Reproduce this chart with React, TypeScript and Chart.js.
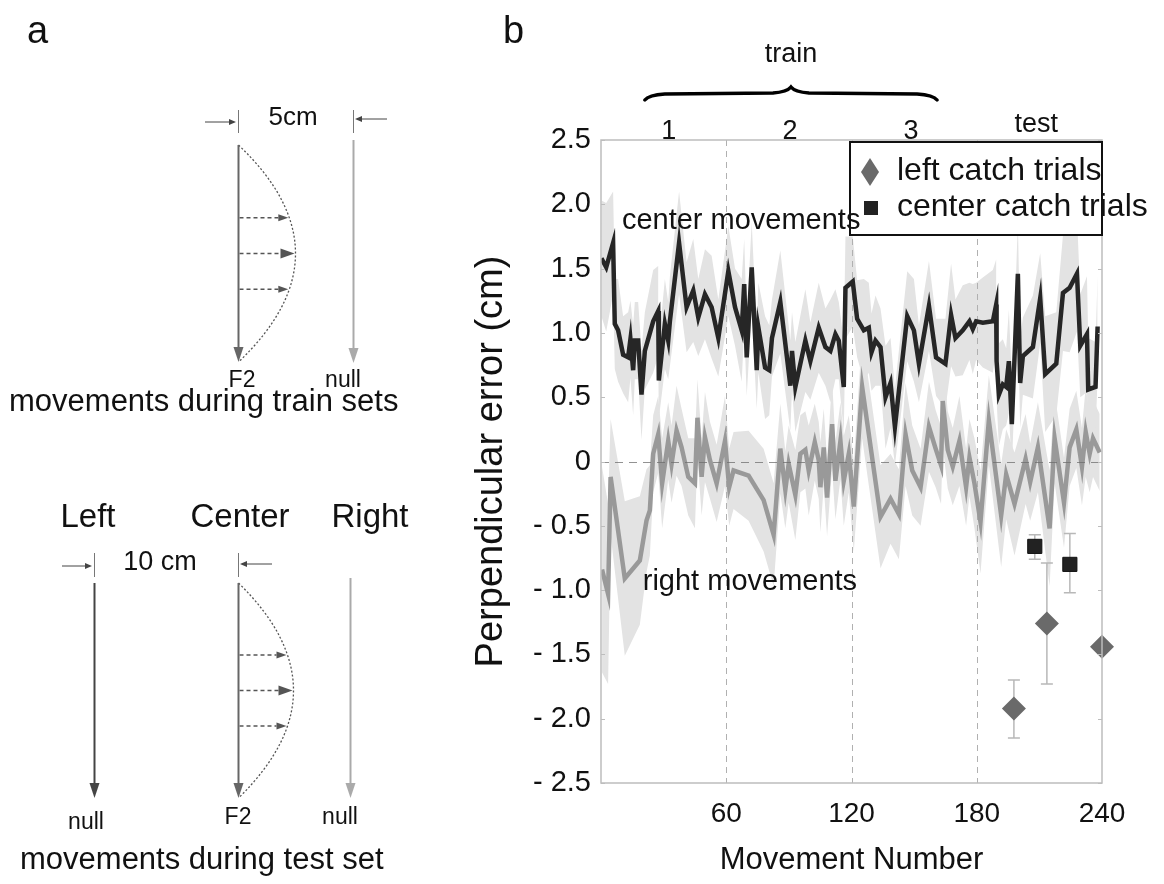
import React, { useEffect, useRef } from "react";
import { Chart, registerables } from "chart.js";
Chart.register(...registerables);

// ---------------- data (panel b) ----------------
const centerX = [0.2, 2.5, 5.8, 6.6, 8.2, 10.6, 13, 14.1, 15.4, 16.2,
  17.8, 19.4, 21, 25, 27.4, 27.7, 30.6, 32.2, 33, 37.4,
  41, 44.2, 46.6, 49.8, 53, 56.2, 61, 64.2, 67.4, 68.6,
  69.8, 72.2, 74.6, 75.4, 78.6, 80.6, 81.9, 85.9, 90.7, 91.5,
  93.1, 97.9, 100.3, 104.3, 107.5, 109.9, 112.3, 113.9, 116.3, 117.1,
  120.6, 122.7, 125.9, 128.3, 129.6, 131.5, 133.9, 136.3, 138.7, 140.8,
  146.7, 149.9, 152.3, 157.1, 160.5, 165, 167.7, 169.8, 173.3, 176.5,
  178.1, 179.7, 182.9, 187.7, 189.3, 189.5, 190.6, 192.5, 194.1, 195.4,
  196.8, 198.1, 199.7, 200.8, 202.1, 206.9, 210.4, 212.8, 218.1, 221.3,
  224.5, 228, 229.6, 232.8, 233.4, 236.9, 237.9];
const centerY = [1.58, 1.51, 1.70, 1.07, 1.02, 0.83, 0.81, 0.95, 0.71, 0.94,
  0.94, 0.52, 0.86, 1.09, 1.17, 0.63, 1.07, 0.94, 1.09, 1.70,
  1.20, 1.33, 1.12, 1.30, 1.20, 0.96, 1.48, 1.20, 1.02, 1.38,
  0.81, 1.51, 0.71, 1.04, 0.73, 0.71, 0.96, 1.24, 0.59, 0.86,
  0.58, 0.94, 0.78, 1.04, 0.89, 0.86, 0.99, 0.94, 0.58, 1.35,
  1.40, 1.11, 1.02, 1.04, 0.85, 0.94, 0.89, 0.50, 0.61, 0.27,
  1.13, 1.02, 0.76, 1.21, 0.81, 0.76, 1.14, 0.96, 1.02, 1.09,
  1.03, 1.09, 1.08, 1.09, 1.22, 0.78, 0.52, 0.60, 0.58, 0.78,
  0.29, 0.81, 1.46, 0.61, 0.82, 0.89, 1.27, 0.68, 0.76, 1.31,
  1.35, 1.46, 0.90, 0.99, 0.56, 0.58, 1.05];
const centerSD = [0.45, 0.5, 0.4, 0.35, 0.4, 0.3, 0.35, 0.3, 0.35, 0.3,
  0.3, 0.35, 0.3, 0.4, 0.35, 0.3, 0.35, 0.3, 0.35, 0.4,
  0.35, 0.4, 0.3, 0.35, 0.4, 0.3, 0.35, 0.3, 0.4, 0.35,
  0.3, 0.35, 0.3, 0.35, 0.4, 0.35, 0.3, 0.4, 0.35, 0.3,
  0.35, 0.4, 0.3, 0.35, 0.3, 0.4, 0.35, 0.3, 0.35, 0.4,
  0.35, 0.3, 0.4, 0.35, 0.3, 0.35, 0.3, 0.4, 0.35, 0.3,
  0.35, 0.4, 0.3, 0.35, 0.3, 0.35, 0.4, 0.3, 0.35, 0.3,
  0.35, 0.3, 0.35, 0.4, 0.35, 0.3, 0.4, 0.35, 0.3, 0.4,
  0.35, 0.3, 0.4, 0.35, 0.3, 0.4, 0.35, 0.45, 0.4, 0.45,
  0.5, 0.45, 0.4, 0.45, 0.4, 0.35, 0.4];

const rightX = [0.5, 3.4, 4.6, 11.4, 18.6, 21.8, 23.4, 25, 27.4, 29.3,
  32.2, 33.8, 36.2, 38.6, 41.8, 45, 46.2, 48.2, 49.8, 52.2,
  55.4, 59.4, 61.4, 63.5, 70.7, 77.9, 82.7, 85.9, 88.3, 89.9,
  93.1, 95.5, 97.9, 99.5, 102.4, 104.3, 105.1, 106.7, 108.3, 110.7,
  112.3, 114.7, 116.3, 118.7, 121.1, 125.1, 133.9, 138.7, 142.7, 145.9,
  149.1, 153.1, 157.1, 160.3, 162.9, 163.7, 166.1, 168.5, 171.7, 174.9,
  176.5, 178.9, 181.8, 185.8, 191.7, 194.1, 198.1, 203.4, 205.6, 209.3,
  214.9, 217.3, 221.8, 224.5, 227.7, 230.4, 232.2, 234.1, 235.7, 238.9];
const rightY = [-0.84, -1.03, -0.12, -0.91, -0.77, -0.46, -0.38, 0.06, 0.21, -0.17,
  0.16, -0.02, 0.24, 0.11, -0.12, -0.17, 0.34, -0.12, 0.19, 0.01,
  -0.17, 0.16, -0.20, -0.07, -0.11, -0.30, -0.57, 0.10, -0.22, -0.02,
  -0.26, 0.06, 0.09, -0.07, 0.15, 0.01, -0.20, 0.11, -0.28, 0.29,
  -0.15, 0.16, -0.15, 0.06, -0.35, 0.58, -0.43, -0.29, -0.41, 0.21,
  -0.07, -0.20, 0.27, 0.10, -0.03, 0.47, 0.09, -0.04, 0.16, -0.20,
  0.03, -0.17, -0.47, 0.32, -0.42, -0.10, -0.33, 0.02, -0.16, 0.11,
  -0.52, 0.18, -0.32, 0.11, 0.25, -0.04, 0.23, 0.06, 0.18, 0.07];
const rightSD = [0.8, 0.7, 0.45, 0.6, 0.5, 0.4, 0.35, 0.3, 0.3, 0.35,
  0.3, 0.3, 0.35, 0.3, 0.3, 0.35, 0.3, 0.3, 0.35, 0.3,
  0.3, 0.35, 0.3, 0.3, 0.35, 0.4, 0.4, 0.35, 0.3, 0.3,
  0.35, 0.3, 0.3, 0.35, 0.3, 0.3, 0.35, 0.3, 0.3, 0.35,
  0.3, 0.3, 0.35, 0.3, 0.35, 0.4, 0.4, 0.35, 0.35, 0.4,
  0.35, 0.3, 0.35, 0.3, 0.3, 0.35, 0.3, 0.3, 0.35, 0.3,
  0.3, 0.35, 0.4, 0.35, 0.4, 0.35, 0.4, 0.35, 0.3, 0.35,
  0.45, 0.35, 0.35, 0.3, 0.3, 0.3, 0.35, 0.3, 0.3, 0.3];

const leftCatchX = [197.8, 213.6, 240];
const leftCatchY = [-1.92, -1.26, -1.44];
const leftCatchLow = [-2.15, -1.73, null];
const leftCatchHigh = [-1.70, -0.79, null];
const centerCatchX = [207.8, 224.6];
const centerCatchY = [-0.66, -0.80];
const centerCatchLow = [-0.76, -1.02];
const centerCatchHigh = [-0.57, -0.56];

const xTicks = [60, 120, 180, 240];
const yMin = -2.5;
const yMax = 2.5;
const yStep = 0.5;
const phaseLabels = ["1", "2", "3", "test"];
const phaseCenters = [32.5, 90.5, 148.5, 208.5];
const trainBrace = [21, 161];
const legendLabels = ["left catch trials", "center catch trials"];
const seriesLabels = ["center movements", "right movements"];
const seriesLabelPos = [[10, 1.87], [20, -0.94]];

const FONT = "'Liberation Sans', Arial, Helvetica, sans-serif";
const f = (s: number) => `${s}px ${FONT}`;

const pts = (xs: number[], ys: number[]) => xs.map((x, i) => ({ x, y: ys[i] }));
const band = (xs: number[], ys: number[], sd: number[], sign: number) =>
  xs.map((x, i) => ({ x, y: ys[i] + sign * sd[i] }));

// ---------------- panel a drawing helpers ----------------
function vArrow(ctx: any, x: number, y1: number, y2: number, color: string, lw: number, hw: number, hl: number) {
  ctx.save();
  ctx.setLineDash([]);
  ctx.strokeStyle = color;
  ctx.lineWidth = lw;
  ctx.beginPath();
  ctx.moveTo(x, y1);
  ctx.lineTo(x, y2 - hl + 2);
  ctx.stroke();
  ctx.fillStyle = color;
  ctx.beginPath();
  ctx.moveTo(x - hw, y2 - hl);
  ctx.lineTo(x + hw, y2 - hl);
  ctx.lineTo(x, y2);
  ctx.closePath();
  ctx.fill();
  ctx.restore();
}
function hArrow(ctx: any, x1: number, x2: number, y: number, color: string, lw: number, hw: number, hl: number, dash: number[]) {
  ctx.save();
  const dir = x2 > x1 ? 1 : -1;
  ctx.strokeStyle = color;
  ctx.lineWidth = lw;
  ctx.setLineDash(dash);
  ctx.beginPath();
  ctx.moveTo(x1, y);
  ctx.lineTo(x2 - dir * hl, y);
  ctx.stroke();
  ctx.setLineDash([]);
  ctx.fillStyle = color;
  ctx.beginPath();
  ctx.moveTo(x2 - dir * hl, y - hw);
  ctx.lineTo(x2 - dir * hl, y + hw);
  ctx.lineTo(x2, y);
  ctx.closePath();
  ctx.fill();
  ctx.restore();
}
function vLine(ctx: any, x: number, y1: number, y2: number, color: string, lw: number) {
  ctx.save();
  ctx.strokeStyle = color;
  ctx.lineWidth = lw;
  ctx.beginPath();
  ctx.moveTo(x, y1);
  ctx.lineTo(x, y2);
  ctx.stroke();
  ctx.restore();
}
function forceMove(ctx: any, x: number, y1: number, y2: number, bulge: number, lineColor: string) {
  const ym = (y1 + y2) / 2;
  const half = (y2 - y1) / 2;
  ctx.save();
  ctx.strokeStyle = "#555";
  ctx.lineWidth = 1.3;
  ctx.setLineDash([2, 2]);
  ctx.beginPath();
  ctx.moveTo(x, y1);
  ctx.quadraticCurveTo(x + 2 * bulge, ym, x, y2);
  ctx.stroke();
  ctx.restore();
  const cx = (yy: number) => x + bulge * (1 - Math.pow((yy - ym) / half, 2));
  const offs = [-0.33, 0, 0.33];
  offs.forEach((o, i) => {
    const yy = ym + o * half;
    const big = i === 1;
    hArrow(ctx, x + 1, cx(yy) - 1, yy, "#555", 1.4, big ? 5 : 3.5, big ? 14 : 10, [4, 3]);
  });
  vArrow(ctx, x, y1, y2, lineColor, 2, 5, 15);
}
function text(ctx: any, s: string, x: number, y: number, size: number, align: string, color = "#111") {
  ctx.save();
  ctx.font = f(size);
  ctx.fillStyle = color;
  ctx.textAlign = align;
  ctx.textBaseline = "middle";
  ctx.fillText(s, x, y);
  ctx.restore();
}

const panelA = {
  id: "panelA",
  afterDraw(chart: any) {
    const ctx = chart.ctx;
    ctx.save();
    ctx.font = f(38);
    ctx.fillStyle = "#111";
    ctx.textBaseline = "alphabetic";
    ctx.textAlign = "left";
    ctx.fillText("a", 27, 43);
    ctx.fillText("b", 503, 43);
    ctx.restore();

    // ---- top diagram (train sets)
    vLine(ctx, 238.5, 110, 133, "#777", 1);
    vLine(ctx, 353.5, 110, 133, "#777", 1);
    hArrow(ctx, 205, 236, 122, "#444", 1, 3, 7, []);
    hArrow(ctx, 387, 355, 119, "#444", 1, 3, 7, []);
    text(ctx, "5cm", 293, 118, 26, "center");
    forceMove(ctx, 238.5, 145, 362, 57, "#666");
    vArrow(ctx, 353.5, 140, 363, "#aaa", 2, 5, 15);
    text(ctx, "F2", 242, 381, 23, "center");
    text(ctx, "null", 343, 381, 23, "center");
    text(ctx, "movements during train sets", 9, 402, 31, "left");

    // ---- bottom diagram (test set)
    text(ctx, "Left", 88, 518, 33, "center");
    text(ctx, "Center", 240, 518, 33, "center");
    text(ctx, "Right", 370, 518, 33, "center");
    vLine(ctx, 94.5, 553, 577, "#777", 1);
    vLine(ctx, 238.5, 553, 577, "#777", 1);
    hArrow(ctx, 62, 92, 566, "#444", 1, 3, 7, []);
    hArrow(ctx, 272, 240, 564, "#444", 1, 3, 7, []);
    text(ctx, "10 cm", 160, 563, 27, "center");
    vArrow(ctx, 94.5, 583, 798, "#444", 2, 5, 15);
    forceMove(ctx, 238.5, 583, 798, 55, "#666");
    vArrow(ctx, 350.5, 578, 798, "#aaa", 2, 5, 15);
    text(ctx, "null", 86, 823, 23, "center");
    text(ctx, "F2", 238, 818, 23, "center");
    text(ctx, "null", 340, 818, 23, "center");
    text(ctx, "movements during test set", 20, 860, 31, "left");
  },
};

// ---------------- panel b decorations ----------------
const decor = {
  id: "decor",
  beforeDatasetsDraw(chart: any) {
    const { ctx, chartArea: a, scales } = chart;
    const x = scales.x;
    const y = scales.y;
    ctx.save();
    ctx.strokeStyle = "#b0b0b0";
    ctx.lineWidth = 1;
    ctx.setLineDash([6, 5]);
    xTicks.slice(0, -1).forEach((v) => {
      const px = Math.round(x.getPixelForValue(v)) + 0.5;
      ctx.beginPath();
      ctx.moveTo(px, a.top);
      ctx.lineTo(px, a.bottom);
      ctx.stroke();
    });
    ctx.restore();
    ctx.save();
    ctx.strokeStyle = "#b8b8b8";
    ctx.lineWidth = 1.5;
    const bars = (xs: number[], lo: any[], hi: any[]) => {
      xs.forEach((v, i) => {
        if (lo[i] == null || hi[i] == null) return;
        const px = x.getPixelForValue(v);
        const p1 = y.getPixelForValue(lo[i]);
        const p2 = y.getPixelForValue(hi[i]);
        ctx.beginPath();
        ctx.moveTo(px, p1);
        ctx.lineTo(px, p2);
        ctx.moveTo(px - 6, p1);
        ctx.lineTo(px + 6, p1);
        ctx.moveTo(px - 6, p2);
        ctx.lineTo(px + 6, p2);
        ctx.stroke();
      });
    };
    bars(leftCatchX, leftCatchLow, leftCatchHigh);
    bars(centerCatchX, centerCatchLow, centerCatchHigh);
    ctx.restore();
  },
  afterDatasetsDraw(chart: any) {
    const { ctx, chartArea: a, scales } = chart;
    const y = scales.y;
    const py = Math.round(y.getPixelForValue(0)) + 0.5;
    ctx.save();
    ctx.strokeStyle = "rgba(110,110,110,0.75)";
    ctx.lineWidth = 1.2;
    ctx.setLineDash([8, 6]);
    ctx.beginPath();
    ctx.moveTo(a.left, py);
    ctx.lineTo(a.right, py);
    ctx.stroke();
    ctx.restore();
  },
  afterDraw(chart: any) {
    const { ctx, chartArea: a, scales } = chart;
    const x = scales.x;
    const y = scales.y;
    ctx.save();
    ctx.strokeStyle = "#bdbdbd";
    ctx.lineWidth = 1.5;
    ctx.strokeRect(a.left, a.top, a.right - a.left, a.bottom - a.top);
    ctx.lineWidth = 1;
    for (let v = yMin; v <= yMax + 1e-9; v += yStep) {
      const py = Math.round(y.getPixelForValue(v)) + 0.5;
      ctx.beginPath();
      ctx.moveTo(a.left, py);
      ctx.lineTo(a.left + 4, py);
      ctx.moveTo(a.right, py);
      ctx.lineTo(a.right - 4, py);
      ctx.stroke();
    }
    ctx.restore();

    phaseLabels.forEach((s, i) => {
      text(ctx, s, x.getPixelForValue(phaseCenters[i]), i === 3 ? 125 : 132, 27, "center");
    });
    const bx1 = x.getPixelForValue(trainBrace[0]);
    const bx2 = x.getPixelForValue(trainBrace[1]);
    const bm = (bx1 + bx2) / 2;
    const by = 95;
    ctx.save();
    ctx.strokeStyle = "#000";
    ctx.lineWidth = 3.5;
    ctx.lineCap = "round";
    ctx.beginPath();
    ctx.moveTo(bx1, by + 5);
    ctx.quadraticCurveTo(bx1 + 4, by, bx1 + 20, by - 1);
    ctx.lineTo(bm - 18, by - 2);
    ctx.quadraticCurveTo(bm - 4, by - 3, bm, by - 8);
    ctx.quadraticCurveTo(bm + 4, by - 3, bm + 18, by - 2);
    ctx.lineTo(bx2 - 20, by - 1);
    ctx.quadraticCurveTo(bx2 - 4, by, bx2, by + 5);
    ctx.stroke();
    ctx.restore();
    text(ctx, "train", bm, 55, 27, "center");

    const lx = a.left + 249;
    const ly = a.top + 2;
    const lw = a.right - lx;
    const lh = 93;
    ctx.save();
    ctx.fillStyle = "#fff";
    ctx.fillRect(lx, ly, lw, lh);
    ctx.strokeStyle = "#111";
    ctx.lineWidth = 2;
    ctx.strokeRect(lx, ly, lw, lh);
    ctx.fillStyle = "#6a6a6a";
    ctx.beginPath();
    ctx.moveTo(lx + 20, ly + 16);
    ctx.lineTo(lx + 29, ly + 30);
    ctx.lineTo(lx + 20, ly + 44);
    ctx.lineTo(lx + 11, ly + 30);
    ctx.closePath();
    ctx.fill();
    ctx.fillStyle = "#222";
    ctx.fillRect(lx + 14, ly + 59, 14, 14);
    ctx.restore();
    text(ctx, legendLabels[0], lx + 47, ly + 29, 32, "left");
    text(ctx, legendLabels[1], lx + 47, ly + 65, 32, "left");

    seriesLabels.forEach((s, i) => {
      text(ctx, s, x.getPixelForValue(seriesLabelPos[i][0]), y.getPixelForValue(seriesLabelPos[i][1]), 29, "left");
    });

    ctx.save();
    ctx.translate(492, y.getPixelForValue(0));
    ctx.rotate(-Math.PI / 2);
    ctx.font = f(38);
    ctx.fillStyle = "#111";
    ctx.textAlign = "center";
    ctx.textBaseline = "middle";
    ctx.fillText("Perpendicular error (cm)", 0, 0);
    ctx.restore();
    text(ctx, "Movement Number", (a.left + a.right) / 2, 860, 31, "center");
  },
};

export default function App() {
  const ref = useRef<HTMLCanvasElement>(null);
  useEffect(() => {
    Chart.defaults.font.family = FONT;
    const chart = new Chart(ref.current as HTMLCanvasElement, {
      type: "line",
      data: {
        datasets: [
          { label: "cU", data: band(centerX, centerY, centerSD, 1), borderWidth: 0, pointRadius: 0, fill: false, order: 10 },
          { label: "cL", data: band(centerX, centerY, centerSD, -1), borderWidth: 0, pointRadius: 0, fill: "-1", backgroundColor: "#e3e3e3", order: 10 },
          { label: "rU", data: band(rightX, rightY, rightSD, 1), borderWidth: 0, pointRadius: 0, fill: false, order: 10 },
          { label: "rL", data: band(rightX, rightY, rightSD, -1), borderWidth: 0, pointRadius: 0, fill: "-1", backgroundColor: "#e3e3e3", order: 10 },
          { label: "right movements", data: pts(rightX, rightY), borderColor: "#999999", borderWidth: 4.5, pointRadius: 0, fill: false, order: 3 },
          { label: "center movements", data: pts(centerX, centerY), borderColor: "#262626", borderWidth: 4.5, pointRadius: 0, fill: false, order: 2 },
          { label: legendLabels[0], data: pts(leftCatchX, leftCatchY), showLine: false, pointStyle: "rectRot", pointRadius: 12, backgroundColor: "#6a6a6a", borderColor: "#6a6a6a", borderWidth: 0, clip: false, order: 1 } as any,
          { label: legendLabels[1], data: pts(centerCatchX, centerCatchY), showLine: false, pointStyle: "rect", pointRadius: 10, backgroundColor: "#222", borderColor: "#111", borderWidth: 1, clip: false, order: 1 } as any,
        ],
      },
      options: {
        responsive: false,
        maintainAspectRatio: false,
        animation: false,
        devicePixelRatio: 1,
        layout: { padding: { left: 0, right: 62, top: 140, bottom: 0 } },
        elements: { line: { tension: 0, borderJoinStyle: "miter" } },
        plugins: {
          legend: { display: false },
          tooltip: { enabled: false },
          filler: { drawTime: "beforeDatasetsDraw" },
        },
        scales: {
          x: {
            type: "linear",
            min: 0,
            max: 240,
            grid: { display: false, drawTicks: false },
            border: { display: false },
            afterFit: (s: any) => { s.height = 101; },
            afterBuildTicks: (s: any) => { s.ticks = xTicks.map((v) => ({ value: v })); },
            ticks: { font: { size: 28 }, color: "#111", padding: 14, maxRotation: 0, autoSkip: false, callback: (v: any) => String(v) },
          },
          y: {
            type: "linear",
            min: yMin,
            max: yMax,
            grid: { display: false, drawTicks: false },
            border: { display: false },
            afterFit: (s: any) => { s.width = 601; },
            ticks: {
              stepSize: yStep,
              font: { size: 29 },
              color: "#111",
              padding: 10,
              callback: (v: any) => {
                const n = Number(v);
                if (Math.abs(n) < 1e-9) return "0";
                return n < 0 ? "- " + Math.abs(n).toFixed(1) : n.toFixed(1);
              },
            },
          },
        },
      } as any,
      plugins: [decor, panelA],
    });
    return () => chart.destroy();
  }, []);
  return (
    <div style={{ position: "absolute", left: 0, top: 0, width: 1164, height: 884, background: "#fff" }}>
      <canvas ref={ref} width={1164} height={884} style={{ display: "block", width: 1164, height: 884 }} />
    </div>
  );
}
